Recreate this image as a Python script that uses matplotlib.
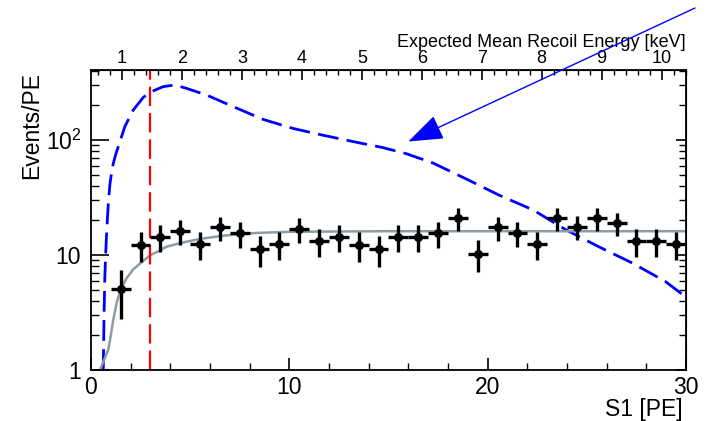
import numpy as np
import matplotlib
matplotlib.use("Agg")
import matplotlib.pyplot as plt
from matplotlib.patches import ConnectionPatch
from matplotlib.ticker import MultipleLocator, AutoMinorLocator, NullFormatter, LogLocator, FixedLocator

plt.rcParams['font.family'] = ['Liberation Sans', 'DejaVu Sans']
plt.rcParams['mathtext.fontset'] = 'custom'
plt.rcParams['mathtext.rm'] = 'Liberation Sans'
plt.rcParams['lines.scale_dashes'] = False

# measured data (events per PE, 1 PE bins)
bin_centers = np.arange(1.5, 30.0, 1.0)
events = [5.1, 12.2, 14.4, 16.3, 12.5, 17.4, 15.4, 11.2, 12.5, 16.7, 13.3, 14.4, 12.2, 11.2, 14.4,
          14.4, 15.4, 20.9, 10.3, 17.4, 15.6, 12.5, 20.9, 17.6, 20.9, 18.9, 13.3, 13.3, 12.5]
events_err = [2.3, 3.5, 3.8, 4.0, 3.5, 4.2, 3.9, 3.3, 3.5, 4.1, 3.6, 3.8, 3.5, 3.3, 3.8,
              3.8, 3.9, 4.6, 3.2, 4.2, 3.9, 3.5, 4.6, 4.2, 4.6, 4.3, 3.6, 3.6, 3.5]

# background model (grey)
bkg_s1 = [0.45, 0.87, 0.99, 1.12, 1.29, 1.49, 1.8, 2.13, 2.64, 3.0, 3.31, 3.81, 4.5, 5.5, 6.5,
          7.5, 8.5, 10.0, 12.0, 15.0, 20.0, 25.0, 30.0]
bkg_val = [1.0, 1.5, 1.95, 2.7, 3.8, 5.0, 6.3, 7.5, 8.9, 10.0, 10.6, 11.8, 12.7, 13.8, 14.6,
           15.2, 15.6, 15.9, 16.0, 16.1, 16.1, 16.1, 16.1]

# signal model (blue dashed)
sig_s1 = [0.62, 0.66, 0.70, 0.75, 0.80, 0.88, 0.96, 1.04, 1.12, 1.2, 1.3, 1.38, 1.71, 2.13, 2.64,
          3.06, 3.64, 4.23, 4.82, 5.83, 7.17, 8.68, 10.19, 11.7, 13.2, 14.7, 15.9, 17.25, 18.9,
          20.6, 22.3, 23.96, 25.6, 27.3, 28.95, 30.0]
sig_val = [1.0, 3.0, 6.5, 11, 17, 29, 42, 52, 62, 70, 80, 88, 131, 182, 235,
           264, 291, 301, 281, 246, 195, 151, 126, 110, 97, 86, 76, 63, 46,
           33, 24.6, 16.5, 11.8, 8.5, 5.9, 4.3]

threshold_s1 = 3.0
arrow_tip = (16.0, 97)

# top axis: recoil energy ticks and where they sit in S1
kev_ticks = [1, 2, 3, 4, 5, 6, 7, 8, 9, 10]
kev_tick_s1 = [1.56, 4.59, 7.62, 10.64, 13.67, 16.69, 19.67, 22.74, 25.72, 28.79]
slope, offset = np.polyfit(kev_ticks, kev_tick_s1, 1)

dpi = 100
fig = plt.figure(figsize=(709 / dpi, 421 / dpi), dpi=dpi)
ax = fig.add_axes([0.1283, 0.1211, 0.8393, 0.7126])

ax.plot(sig_s1, sig_val, color='#0000ff', lw=2.0, dashes=(15, 6))
ax.plot(bkg_s1, bkg_val, color='#8d9ca3', lw=1.8)
ax.axvline(threshold_s1, color='#ff0000', lw=1.6, dashes=(14, 5))
ax.errorbar(bin_centers, events, yerr=events_err, xerr=0.5, fmt='o', color='black',
            ms=5.5, elinewidth=2.4, capsize=0, zorder=5)

ax.set_yscale('log')
ax.set_xlim(0, 30)
ax.set_ylim(1, 406)
ax.set_xticks([0, 10, 20, 30])
ax.xaxis.set_minor_locator(MultipleLocator(2))
ax.set_yticks([1, 10, 100], labels=['1', '10', r'$\mathregular{10^{2}}$'])
ax.yaxis.set_minor_locator(LogLocator(base=10, subs=np.arange(2, 10)))
ax.yaxis.set_minor_formatter(NullFormatter())
ax.tick_params(axis='both', which='both', direction='in', labelsize=16.5, top=False, right=False)
ax.tick_params(axis='y', which='major', length=13, width=1.2, pad=7)
ax.tick_params(axis='y', which='minor', length=6, width=1.0)
ax.tick_params(axis='x', which='major', length=9, width=1.2, pad=4)
ax.tick_params(axis='x', which='minor', length=5, width=1.0)
for sp in ax.spines.values():
    sp.set_linewidth(1.3)

# right-hand ticks, shorter like the original
axr = ax.secondary_yaxis('right', functions=(lambda y: y, lambda y: y))
axr.yaxis.set_major_locator(FixedLocator([1, 10, 100]))
axr.yaxis.set_minor_locator(LogLocator(base=10, subs=np.arange(2, 10)))
axr.tick_params(axis='y', which='both', direction='in', labelright=False)
axr.tick_params(axis='y', which='major', length=7, width=1.2)
axr.tick_params(axis='y', which='minor', length=5, width=1.0)
axr.yaxis.set_major_formatter(NullFormatter())
axr.yaxis.set_minor_formatter(NullFormatter())

axt = ax.secondary_xaxis('top', functions=(lambda s: (s - offset) / slope, lambda e: e * slope + offset))
axt.xaxis.set_major_locator(FixedLocator(kev_ticks))
axt.xaxis.set_minor_locator(AutoMinorLocator(5))
axt.tick_params(axis='x', which='both', direction='in', labelsize=13, pad=2)
axt.tick_params(axis='x', which='major', length=7, width=1.2)
axt.tick_params(axis='x', which='minor', length=3.5, width=1.0)

ax.text(1.0, 1.077, 'Expected Mean Recoil Energy [keV]', transform=ax.transAxes,
        ha='right', va='baseline', fontsize=13)
ax.text(0.995, -0.153, 'S1 [PE]', transform=ax.transAxes, ha='right', va='baseline', fontsize=16.5)
ax.text(-0.099, 0.995, 'Events/PE', transform=ax.transAxes, ha='center', va='top',
        rotation=90, fontsize=16.5)

arrow = ConnectionPatch(xyA=(695 / 709, 1 - 8 / 421), coordsA='figure fraction',
                        xyB=arrow_tip, coordsB='data', axesB=ax,
                        arrowstyle='-|>,head_length=1.1,head_width=0.4', mutation_scale=20,
                        color='#0000ff', lw=1.0, shrinkA=0, shrinkB=0)
fig.add_artist(arrow)

fig.savefig('out.png', dpi=dpi, facecolor='white')
